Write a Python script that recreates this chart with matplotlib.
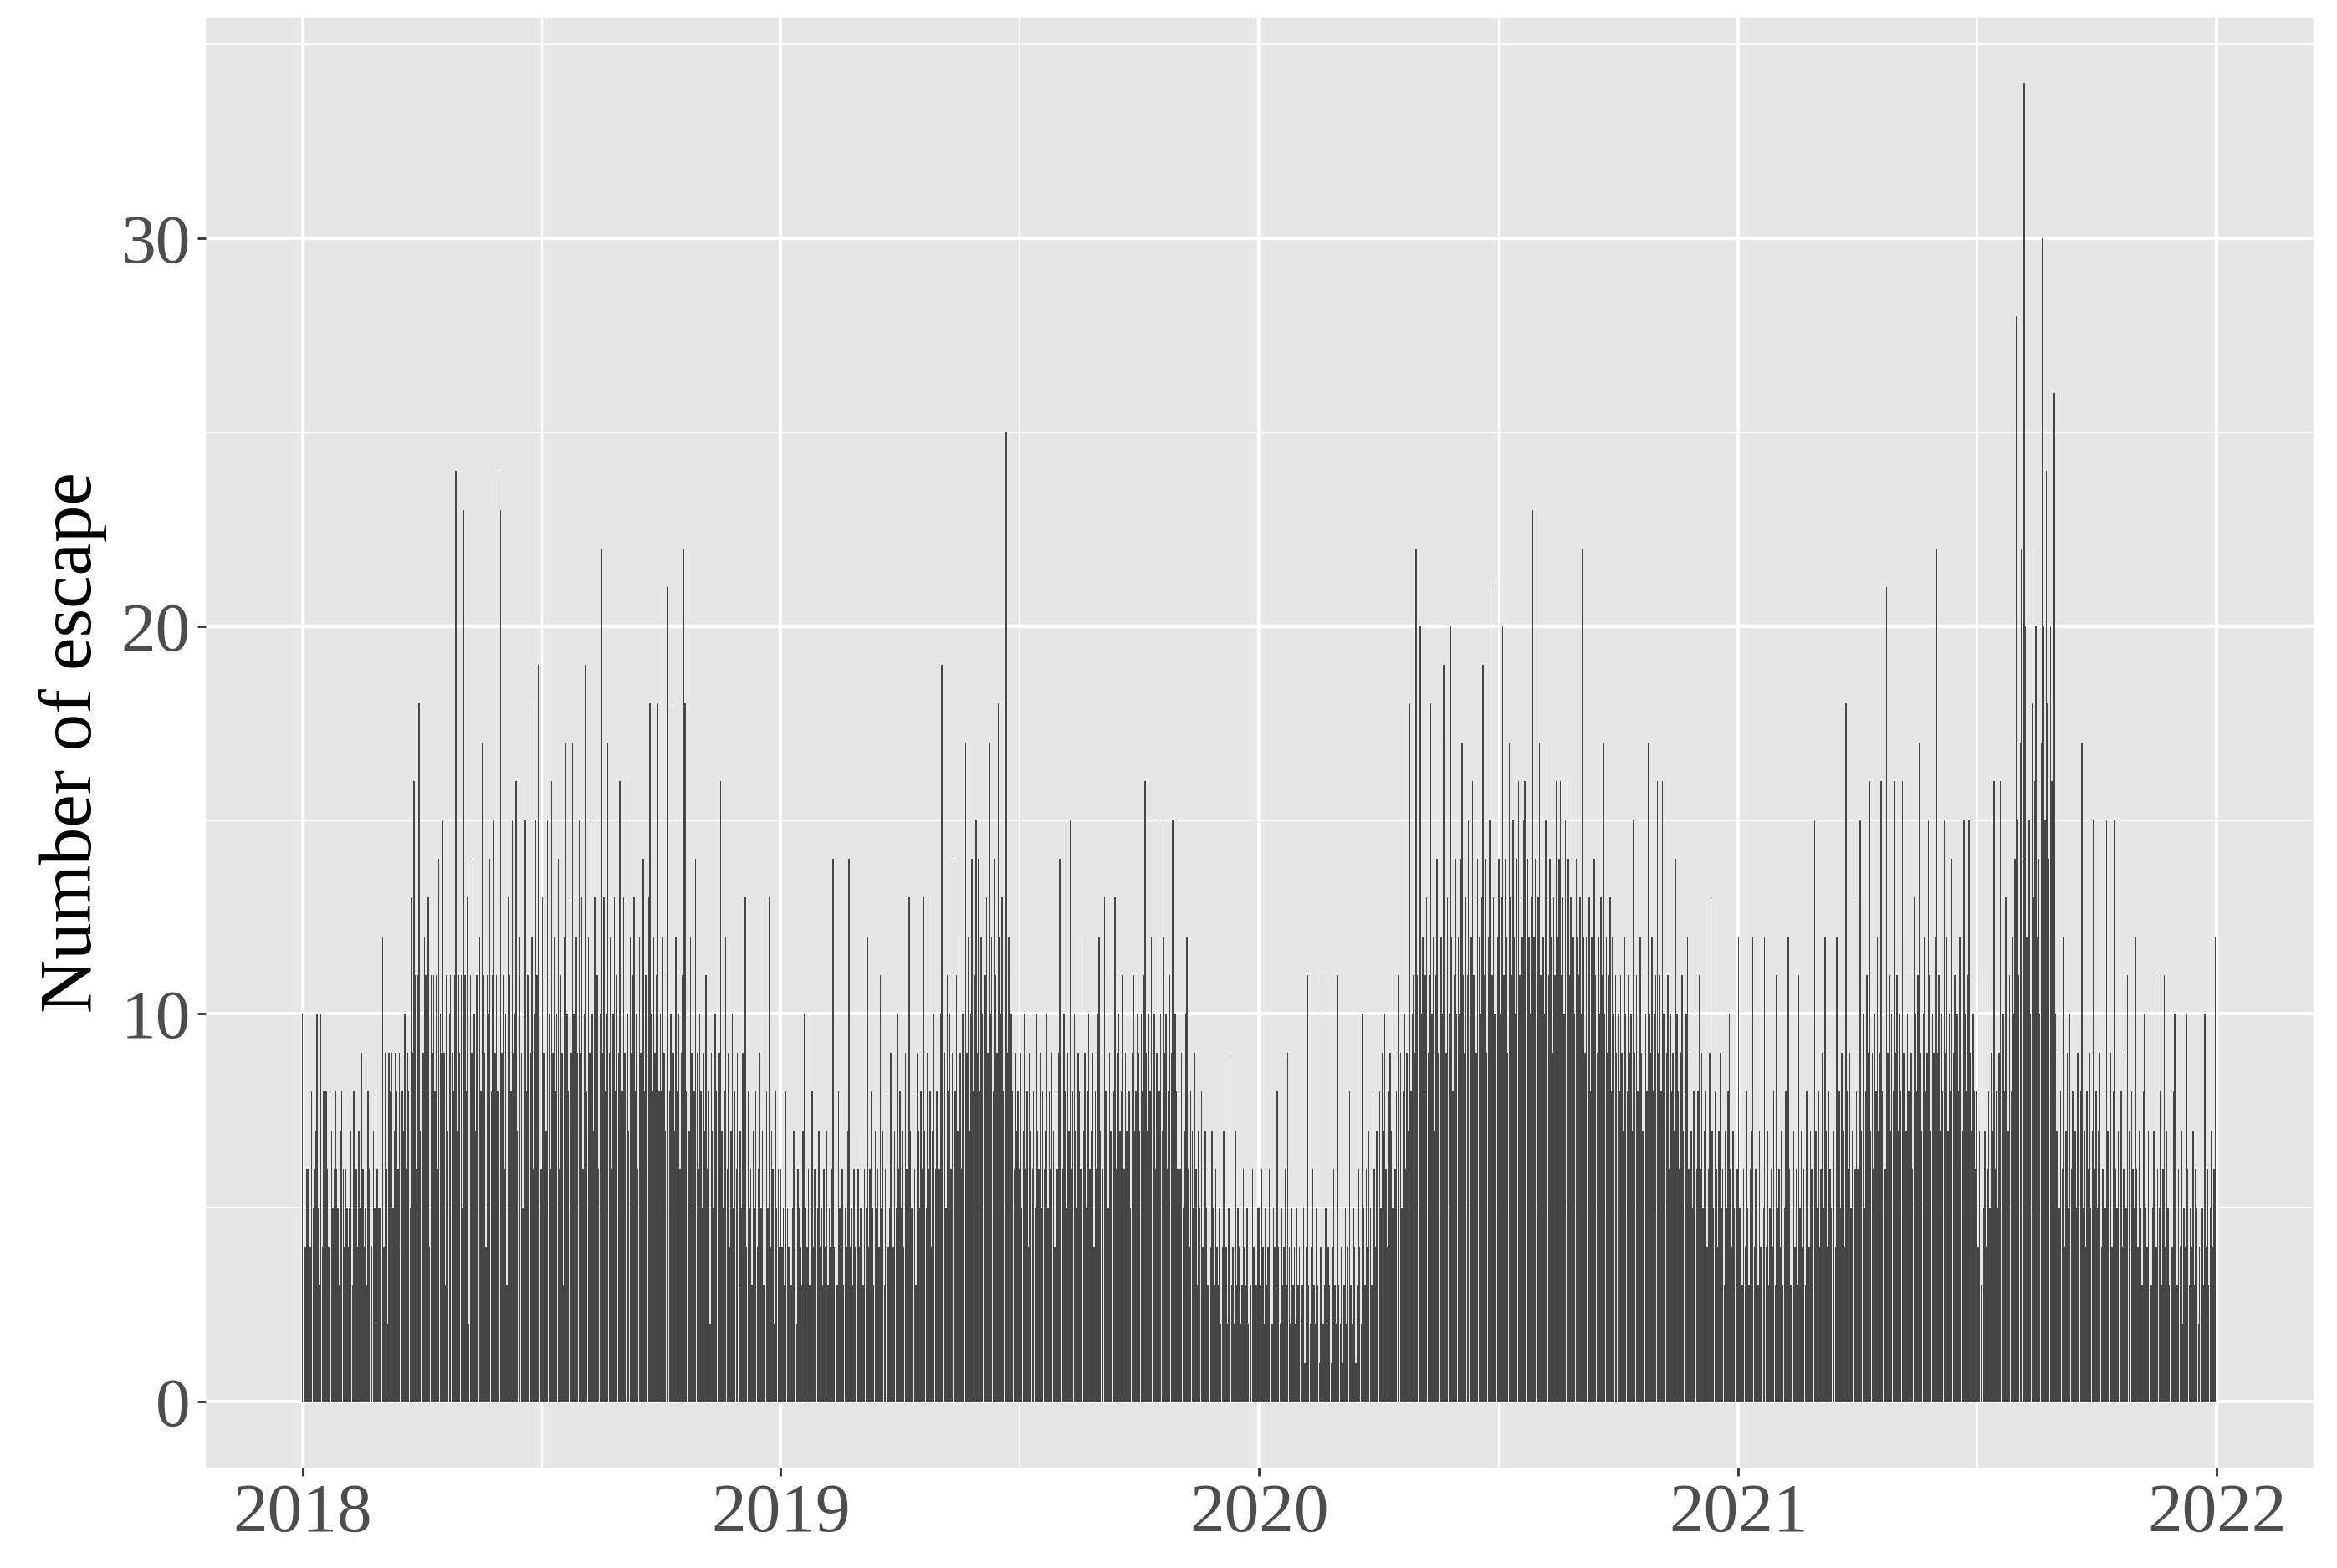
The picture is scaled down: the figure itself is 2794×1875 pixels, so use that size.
import numpy as np
import pandas as pd
import matplotlib
matplotlib.use('Agg')
import matplotlib.pyplot as plt
import matplotlib.dates as mdates

# daily counts, one list per year
y2018 = [
    10, 5, 4, 6, 6, 5, 4, 8, 5, 6, 7, 10, 5, 3, 10, 4, 8, 5, 8, 6, 4, 8, 7, 5, 6, 8, 6, 5, 3, 7, 8,
    6, 4, 6, 5, 4, 5, 7, 3, 8, 5, 6, 4, 7, 5, 9, 6, 4, 5, 3, 8, 6, 5, 4, 7, 5, 2, 6, 5,
    5, 8, 12, 4, 9, 6, 2, 9, 8, 9, 5, 7, 9, 8, 6, 9, 4, 8, 7, 10, 6, 9, 8, 5, 13, 9, 16, 11, 6, 11, 18,
    7, 8, 9, 12, 11, 7, 13, 4, 11, 9, 11, 8, 11, 6, 14, 10, 9, 15, 9, 3, 11, 7, 10, 11, 9, 8, 11, 24, 7, 11,
    9, 11, 5, 23, 11, 8, 13, 2, 11, 9, 14, 10, 7, 11, 9, 12, 8, 17, 11, 9, 4, 11, 10, 14, 8, 11, 15, 9, 11, 8, 24,
    23, 9, 11, 6, 10, 3, 13, 11, 8, 15, 9, 10, 16, 7, 11, 12, 9, 5, 10, 15, 8, 11, 18, 9, 12, 6, 10, 15, 11, 19,
    10, 6, 13, 9, 11, 7, 15, 10, 6, 16, 9, 12, 8, 10, 14, 6, 11, 9, 3, 12, 17, 10, 8, 13, 9, 17, 10, 7, 12, 9, 15,
    9, 13, 6, 10, 19, 8, 12, 9, 15, 10, 7, 13, 9, 11, 6, 10, 22, 9, 13, 8, 10, 17, 9, 12, 6, 10, 13, 8, 11, 9, 16,
    10, 8, 13, 9, 16, 10, 7, 12, 9, 11, 13, 8, 10, 6, 12, 9, 10, 14, 8, 11, 9, 13, 18, 10, 8, 12, 9, 11, 18, 8,
    10, 8, 12, 9, 7, 11, 21, 8, 10, 18, 9, 7, 12, 8, 10, 6, 9, 11, 22, 18, 8, 10, 7, 12, 9, 5, 8, 14, 9, 6, 10,
    8, 5, 9, 7, 11, 6, 8, 2, 9, 7, 5, 10, 8, 6, 9, 16, 7, 5, 8, 12, 6, 9, 4, 7, 10, 5, 8, 6, 9, 3,
    7, 5, 9, 6, 13, 4, 8, 5, 6, 3, 7, 5, 8, 4, 6, 9, 5, 7, 3, 6, 8, 5, 13, 4, 7, 6, 2, 8, 5, 6, 4,
]
y2019 = [
    6, 4, 5, 3, 8, 5, 4, 6, 3, 5, 7, 4, 2, 6, 5, 4, 3, 7, 10, 5, 4, 6, 3, 5, 8, 4, 6, 3, 5, 7, 4,
    5, 3, 6, 4, 7, 3, 5, 4, 6, 14, 4, 5, 3, 8, 5, 4, 6, 3, 5, 4, 7, 14, 4, 5, 3, 6, 4, 5,
    6, 4, 5, 7, 3, 6, 5, 12, 4, 6, 8, 5, 3, 7, 5, 6, 4, 11, 5, 7, 3, 6, 8, 4, 5, 9, 6, 4, 7, 5, 10,
    6, 8, 5, 7, 4, 9, 6, 5, 13, 7, 5, 8, 6, 3, 9, 7, 5, 8, 6, 13, 7, 5, 9, 6, 8, 4, 7, 10, 6, 8,
    8, 6, 10, 19, 7, 9, 5, 11, 8, 10, 6, 9, 14, 8, 11, 7, 12, 9, 6, 10, 8, 17, 9, 12, 7, 10, 14, 8, 11, 15, 9,
    14, 8, 12, 10, 7, 11, 13, 9, 17, 10, 12, 8, 14, 11, 9, 18, 12, 10, 13, 8, 11, 25, 9, 12, 7, 10, 8, 6, 9, 7,
    8, 6, 9, 5, 7, 10, 6, 8, 4, 9, 7, 6, 8, 5, 10, 7, 6, 9, 5, 8, 6, 7, 10, 5, 8, 6, 9, 7, 4, 8, 6,
    9, 14, 7, 6, 10, 8, 5, 9, 7, 15, 6, 8, 10, 7, 5, 9, 8, 6, 12, 7, 9, 5, 8, 10, 6, 7, 9, 4, 8, 6, 10,
    12, 7, 9, 6, 13, 8, 10, 5, 9, 7, 11, 8, 13, 6, 9, 10, 7, 8, 11, 6, 9, 7, 10, 8, 5, 9, 11, 7, 8, 10,
    9, 7, 10, 8, 11, 16, 9, 7, 10, 8, 12, 9, 10, 6, 9, 15, 8, 10, 7, 12, 9, 10, 6, 8, 11, 9, 15, 7, 10, 8, 6,
    8, 6, 9, 5, 7, 10, 12, 6, 4, 8, 7, 5, 9, 6, 3, 7, 5, 8, 4, 6, 7, 5, 3, 6, 4, 7, 5, 3, 6, 4,
    3, 5, 2, 4, 7, 3, 4, 2, 5, 9, 3, 4, 2, 7, 3, 5, 4, 2, 3, 6, 4, 3, 5, 2, 4, 3, 6, 4, 15, 3, 5,
]
y2020 = [
    5, 3, 6, 4, 2, 5, 3, 4, 6, 3, 2, 5, 4, 3, 8, 4, 2, 5, 3, 4, 6, 3, 9, 4, 2, 5, 3, 4, 2, 5, 3,
    4, 2, 3, 5, 1, 4, 11, 3, 2, 4, 6, 3, 2, 5, 3, 1, 4, 11, 2, 3, 5, 2, 4, 3, 1, 4, 6, 3, 2,
    11, 3, 2, 4, 1, 3, 5, 2, 4, 8, 3, 2, 5, 4, 1, 3, 6, 4, 2, 10, 5, 3, 6, 4, 7, 5, 3, 8, 6, 4, 7,
    6, 8, 5, 9, 7, 10, 6, 4, 8, 9, 7, 5, 9, 6, 8, 11, 7, 9, 5, 8, 10, 6, 9, 7, 18, 8, 10, 11, 9, 22,
    11, 9, 20, 10, 12, 8, 11, 13, 9, 11, 18, 10, 12, 7, 11, 14, 9, 17, 12, 10, 19, 11, 9, 13, 10, 20, 12, 8, 11, 14, 10,
    12, 10, 14, 17, 11, 9, 13, 11, 15, 10, 12, 16, 11, 13, 9, 14, 12, 10, 13, 19, 11, 14, 9, 12, 15, 21, 11, 13, 10, 21,
    12, 14, 10, 13, 20, 11, 14, 12, 9, 17, 13, 11, 15, 12, 10, 14, 16, 11, 13, 12, 15, 16, 11, 14, 12, 10, 13, 23, 12, 14, 11,
    13, 17, 11, 14, 12, 10, 15, 13, 11, 14, 12, 9, 13, 11, 16, 12, 14, 16, 11, 13, 10, 15, 12, 14, 11, 13, 16, 12, 10, 14, 12,
    11, 13, 10, 22, 12, 9, 12, 11, 13, 8, 12, 10, 14, 11, 9, 12, 10, 13, 11, 17, 10, 12, 9, 11, 13, 8, 12, 10, 11, 9,
    10, 8, 11, 9, 7, 12, 10, 8, 11, 9, 10, 7, 15, 9, 11, 8, 10, 12, 9, 7, 11, 10, 8, 17, 10, 9, 12, 8, 10, 11, 16,
    9, 11, 8, 16, 10, 7, 9, 11, 6, 10, 8, 9, 7, 14, 10, 8, 6, 9, 11, 7, 8, 10, 12, 6, 9, 7, 5, 8, 10, 6,
    8, 11, 6, 9, 5, 7, 8, 4, 6, 9, 13, 7, 5, 8, 6, 4, 7, 9, 5, 6, 3, 7, 5, 8, 10, 6, 4, 7, 5, 3, 6,
]
y2021 = [
    12, 5, 7, 3, 6, 4, 8, 5, 3, 6, 7, 12, 4, 6, 5, 3, 7, 4, 6, 5, 12, 4, 7, 3, 5, 6, 4, 8, 3, 11, 5,
    6, 4, 7, 3, 5, 8, 4, 12, 6, 3, 5, 7, 4, 6, 3, 11, 5, 7, 4, 6, 3, 8, 5, 4, 7, 6, 3, 15,
    7, 5, 8, 4, 6, 9, 5, 12, 7, 4, 8, 6, 5, 9, 7, 4, 12, 6, 8, 5, 9, 7, 4, 18, 8, 6, 9, 5, 7, 13, 6,
    8, 6, 9, 15, 7, 10, 5, 8, 11, 9, 16, 7, 9, 6, 10, 8, 12, 7, 9, 16, 8, 10, 6, 21, 9, 11, 7, 10, 8, 16,
    9, 11, 7, 10, 8, 16, 9, 12, 7, 10, 8, 11, 9, 6, 13, 10, 8, 11, 17, 9, 7, 10, 12, 8, 9, 15, 11, 7, 10, 9, 12,
    22, 9, 11, 7, 10, 8, 15, 9, 12, 7, 10, 8, 14, 9, 11, 6, 10, 8, 12, 9, 7, 15, 10, 8, 11, 15, 9, 7, 10, 8,
    6, 8, 4, 7, 3, 11, 5, 7, 4, 6, 8, 5, 9, 7, 16, 6, 8, 5, 9, 16, 7, 10, 8, 13, 9, 7, 11, 8, 12, 10, 14,
    28, 15, 11, 17, 22, 14, 34, 20, 12, 22, 15, 10, 18, 13, 16, 20, 12, 14, 10, 17, 30, 20, 15, 24, 18, 14, 20, 16, 12, 26, 10,
    7, 9, 5, 8, 6, 12, 4, 7, 9, 5, 10, 6, 8, 4, 7, 5, 9, 6, 8, 17, 5, 7, 4, 8, 6, 9, 5, 7, 15, 6,
    8, 5, 7, 9, 4, 6, 8, 5, 15, 7, 6, 9, 4, 8, 15, 6, 5, 7, 15, 8, 4, 6, 9, 5, 11, 7, 4, 8, 6, 5, 12,
    6, 4, 7, 5, 3, 8, 10, 5, 4, 7, 6, 3, 5, 7, 11, 4, 6, 5, 8, 3, 6, 11, 4, 7, 5, 3, 6, 4, 8, 10,
    5, 3, 6, 4, 7, 2, 5, 4, 10, 6, 3, 5, 4, 7, 3, 6, 5, 2, 4, 7, 5, 3, 10, 4, 6, 3, 5, 7, 4, 6, 12,
]

counts = y2018 + y2019 + y2020 + y2021
dates = pd.date_range("2018-01-01", periods=len(counts), freq="D")

year_ticks = ["2018", "2019", "2020", "2021", "2022"]
y_ticks = [0, 10, 20, 30]
y_label = "Number of escape"

panel_bg = "#E6E6E6"
bar_col = "#454545"
tick_col = "#4D4D4D"
serif = ["Liberation Serif", "DejaVu Serif"]

fig = plt.figure(figsize=(13.97, 9.375), dpi=200)
ax = fig.add_axes([0.088, 0.064, 0.902, 0.925])
ax.set_facecolor(panel_bg)

x = mdates.date2num(dates)
ax.bar(x, counts, width=0.9, color=bar_col, linewidth=0, zorder=3)

# ggplot-like limits with 5% expansion
x0 = mdates.date2num(pd.Timestamp("2018-01-01"))
x1 = mdates.date2num(pd.Timestamp("2022-01-01"))
ax.set_xlim(x0 - 74, x1 + 74)
ax.set_ylim(-1.7, 35.7)

major_x = [mdates.date2num(pd.Timestamp(f"{y}-01-01")) for y in year_ticks]
minor_x = [(major_x[i] + major_x[i + 1]) / 2 for i in range(len(major_x) - 1)]
ax.set_xticks(major_x)
ax.set_xticklabels(year_ticks)
ax.set_xticks(minor_x, minor=True)
ax.set_yticks(y_ticks)
ax.set_yticks([5, 15, 25, 35], minor=True)

ax.grid(which="major", color="white", linewidth=1.5, zorder=0)
ax.grid(which="minor", color="white", linewidth=0.75, zorder=0)
ax.set_axisbelow(True)

for s in ax.spines.values():
    s.set_visible(False)

ax.tick_params(which="major", length=3.5, width=1.0, color="#333333",
               labelcolor=tick_col, labelsize=30)
ax.tick_params(which="minor", length=0)
ax.tick_params(axis="x", pad=3)
ax.tick_params(axis="y", pad=3)
for lab in ax.get_xticklabels() + ax.get_yticklabels():
    lab.set_family(serif)

ax.set_ylabel(y_label, fontsize=32, family=serif, color="black", labelpad=6)

fig.savefig("out.png", dpi=200, facecolor="white")
